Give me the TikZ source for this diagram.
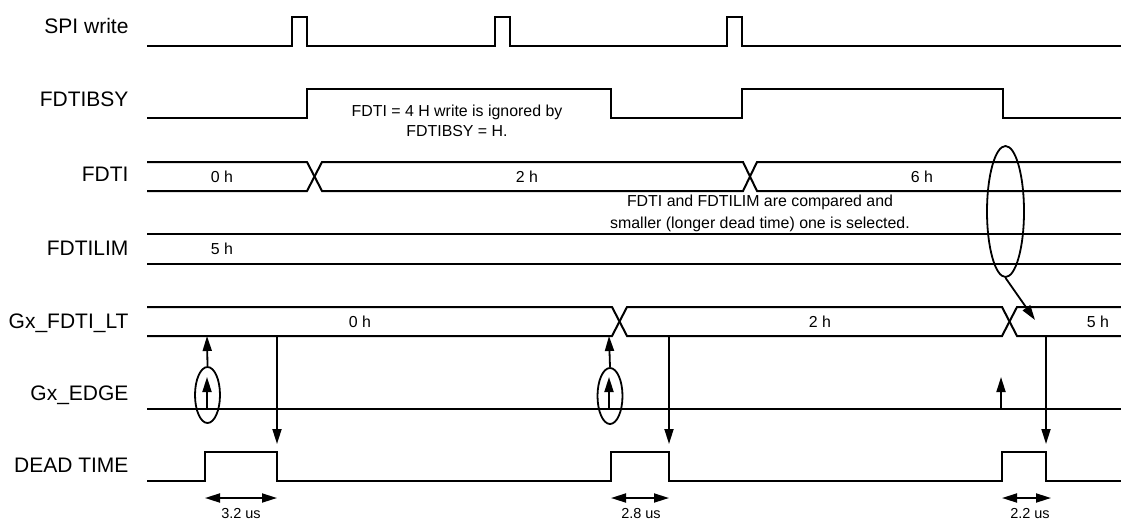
\documentclass[tikz,border=0pt]{standalone}
\usepackage{fontspec}
\setmainfont{Liberation Sans}
\usetikzlibrary{arrows.meta,shapes.geometric}
\tikzset{
  sig/.style={line width=2pt,line join=miter},
  lbl/.style={anchor=base east,font=\fontsize{21}{25}\selectfont},
  val/.style={anchor=base,font=\fontsize{15.9}{19}\selectfont},
  arr/.style={line width=1.8pt,-{Triangle[length=15pt,width=9pt]}},
  dbl/.style={line width=1.8pt,{Triangle[length=15pt,width=9pt]}-{Triangle[length=15pt,width=9pt]}},
  ring/.style={draw,ellipse,line width=1.8pt,inner sep=0pt}
}

\begin{document}
\begin{tikzpicture}[x=1pt,y=-1pt]
    \useasboundingbox (0,0) rectangle (1121,522);
    % signal names
    \node[lbl] (nspi) at (132,33) {SPI write};
    \node[lbl] (nbsy) at (132,106) {FDTIBSY};
    \node[lbl] (nfdti) at (132,181) {FDTI};
    \node[lbl] (nlim) at (132,255) {FDTILIM};
    \node[lbl] (nlt) at (132,328) {Gx\_FDTI\_LT};
    \node[lbl] (nedge) at (132,400) {Gx\_EDGE};
    \node[lbl] (ndead) at (132,472) {DEAD TIME};
    % waveforms
    \draw[sig] (147,46) -- (292,46) -- (292,17) -- (307,17) -- (307,46) -- (495,46) -- (495,17) -- (510,17) -- (510,46)
        -- (727,46) -- (727,17) -- (742,17) -- (742,46) -- (1121,46);
    \draw[sig] (147,118) -- (307,118) -- (307,89) -- (611,89) -- (611,118) -- (742,118) -- (742,89) -- (1003,89) -- (1003,118) -- (1121,118);
    \draw[sig] (147,162) -- (307,162) -- (322,191) -- (743,191) -- (757,162) -- (1121,162);
    \draw[sig] (147,191) -- (307,191) -- (322,162) -- (743,162) -- (757,191) -- (1121,191);
    \draw[sig] (147,234) -- (1121,234);
    \draw[sig] (147,264) -- (1121,264);
    \draw[sig] (147,307) -- (612,307) -- (627,336) -- (1002,336) -- (1017,307) -- (1121,307);
    \draw[sig] (147,336) -- (612,336) -- (627,307) -- (1002,307) -- (1017,336) -- (1121,336);
    \draw[sig] (147,409) -- (1121,409);
    \draw[sig] (147,481) -- (205,481) -- (205,452) -- (277,452) -- (277,481) -- (611,481) -- (611,452) -- (669,452) -- (669,481)
        -- (1002,481) -- (1002,452) -- (1046,452) -- (1046,481) -- (1121,481);
    % bus values
    \node[val] (v0) at (222,182) {0 h};
    \node[val] (v2) at (527,182) {2 h};
    \node[val] (v6) at (922,182) {6 h};
    \node[val] (vlim) at (222,254.5) {5 h};
    \node[val] (l0) at (360,327) {0 h};
    \node[val] (l2) at (820,327) {2 h};
    \node[val] (l5) at (1098,327) {5 h};
    % notes
    \node[val] (ig1) at (457,116) {FDTI = 4 H write is ignored by};
    \node[val] (ig2) at (457,136) {FDTIBSY = H.};
    \node[val] (cmp1) at (760,206) {FDTI and FDTILIM are compared and};
    \node[val] (cmp2) at (760,228) {smaller (longer dead time) one is selected.};
    % edges and latch
    \node[ring,minimum width=25pt,minimum height=56pt] (e1) at (207.5,395) {};
    \node[ring,minimum width=25pt,minimum height=56pt] (e2) at (610,396) {};
    \node[ring,minimum width=37pt,minimum height=131pt] (sel) at (1005.5,211.5) {};
    \coordinate (lt1) at (207,336);
    \coordinate (lt2) at (609,336);
    \coordinate (p3) at (1035,320);
    \draw[arr] (207,409) -- (207,377);
    \draw[arr] (609,409) -- (609,377);
    \draw[arr] (1001,409) -- (1001,377);
    \draw[arr] (e1.north) -- (lt1);
    \draw[arr] (e2.north) -- (lt2);
    \draw[arr] (sel.south) -- (p3);
    \draw[arr] (277,336) -- (277,444);
    \draw[arr] (669,336) -- (669,444);
    \draw[arr] (1046,336) -- (1046,444);
    % dead time widths
    \draw[dbl] (205,498) -- (277,498);
    \draw[dbl] (611,498) -- (669,498);
    \draw[dbl] (1002,498) -- (1051,498);
    \node[val,inner sep=0pt,font=\fontsize{14.5}{17}\selectfont] (t1) at (241,518.5) {3.2 us};
    \node[val,inner sep=0pt,font=\fontsize{14.5}{17}\selectfont] (t2) at (641,518.5) {2.8 us};
    \node[val,inner sep=0pt,font=\fontsize{14.5}{17}\selectfont] (t3) at (1030,518.5) {2.2 us};
\end{tikzpicture}
\end{document}
